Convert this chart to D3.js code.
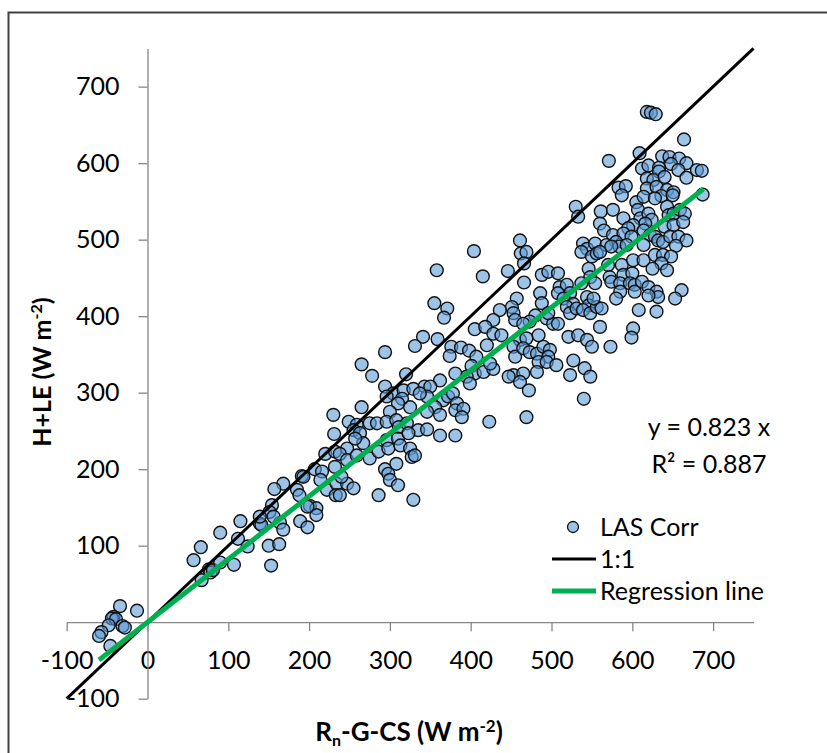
<!DOCTYPE html>
<meta charset="utf-8">
<script src="https://d3js.org/d3.v7.min.js"></script>
<style>
  body { margin: 0; background: #fff; }
  text { font-family: Lato, "Open Sans", sans-serif; fill: #000; }
</style>
<body>
<div id="chart"></div>
<script>
// measured points (Rn-G-CS, H+LE), W m-2
const lasCorr = [
  [-34,21],[-13,15],[-42,7],[-44,5],[-39,4],[-48,-4],[-31,-5],[-28,-7],[-57,-13],[-60,-18],[-46,-31],
  [57,81],[66,98],[67,55],[76,69],[78,65],[81,68],[90,78],[90,117],[107,75],[112,109],[115,132],[124,99],
  [139,129],[141,127],[150,100],[153,74],[163,102],[164,130],[168,121],[189,132],[198,124],
  [230,271],[231,246],[220,220],[207,200],[216,197],[214,186],[222,173],[232,203],[234,181],[168,181],
  [157,174],[185,173],[191,191],[193,190],[188,166],[154,153],[151,144],[156,138],[201,152],[209,149],
  [209,140],[139,138],[233,166],[198,151],[232,223],
  [404,485],[358,460],[415,452],[355,417],[371,410],[367,398],[341,373],[331,361],[359,370],[405,383],
  [376,360],[388,359],[398,355],[374,348],[294,353],[265,337],[278,322],[320,324],[407,347],[401,335],
  [405,325],[395,321],[399,312],[381,325],[362,316],
  [294,308],[304,299],[317,303],[329,305],[343,308],[350,308],[346,295],[337,299],[315,292],[310,286],
  [325,281],[296,295],[300,275],[366,290],[372,295],[378,299],[383,286],[381,277],[391,279],[389,268],
  [356,281],[346,275],[362,271],[265,281],
  [249,262],[259,258],[275,260],[284,260],[296,262],[308,264],[311,255],[321,260],
  [335,251],[346,252],[362,244],[381,244],
  [255,251],[263,247],[267,234],[257,240],[247,227],[238,220],[247,212],[259,218],[275,214],[286,223],
  [296,238],[298,227],[310,240],[313,231],[323,247],[325,227],[327,216],[331,218],[308,207],
  [294,200],[298,194],[300,186],[310,179],[286,166],[329,160],[247,181],[255,175],[238,166],[240,190],
  [530,543],[533,530],[461,499],[462,482],[469,484],[466,469],[446,459],[466,444],[488,454],[496,458],
  [508,456],[561,537],[560,521],
  [539,495],[544,488],[554,495],[537,484],[550,478],[556,482],[546,462],[548,451],[537,443],[554,443],
  [510,438],[519,441],[523,430],[508,430],[515,423],[527,416],[519,412],[523,404],[531,410],[544,425],
  [546,414],[539,408],[548,404],[556,412],[552,423],
  [486,430],[488,417],[480,401],[494,397],[502,390],[508,390],[473,393],[457,423],[451,412],[453,404],
  [455,395],[436,408],[428,395],[418,386],[465,390],[496,404],
  [428,377],[438,375],[420,362],[416,327],[428,331],[424,338],[461,369],[469,371],[484,375],
  [453,360],[455,347],[465,358],[473,353],[482,351],[490,360],[498,356],[496,347],[484,340],[494,340],
  [506,336],[453,323],[447,321],[465,325],[461,314],[472,303],[482,327],[521,373],[533,375],[544,369],
  [550,360],[527,342],[523,323],[541,332],[548,321],[540,292],[423,262],[469,268],
  [618,667],[623,666],[629,664],[664,631],[609,613],[571,603],
  [637,609],[646,608],[658,606],[667,600],[612,593],[620,597],[633,594],[633,589],[648,599],
  [657,591],[667,581],[680,591],[686,590],[618,580],[626,578],[640,582],
  [583,568],[592,570],[587,558],[618,567],[630,569],[643,565],[636,557],[651,562],[650,558],
  [605,549],[614,556],[628,554],[687,559],
  [576,539],[589,528],[565,512],[576,506],
  [607,539],[610,528],[620,534],[624,526],[616,521],[601,519],[614,512],
  [643,543],[645,532],[651,534],[659,539],[665,534],[640,517],[651,519],[663,523],
  [622,506],[628,504],[632,499],[638,497],[647,504],[657,504],[667,499],
  [595,515],[589,508],[599,504],[580,497],[584,491],[593,493],[614,493],[654,492],[568,493],[574,491],
  [560,484],[570,467],[587,467],[601,473],[614,473],[628,480],[638,480],[648,478],[636,469],[625,462],
  [643,460],[589,454],[600,456],[572,451],[574,445],[585,443],[597,443],[603,441],[612,445],[620,438],
  [630,432],[632,425],[603,432],[620,427],[585,432],[580,423],[661,434],[653,423],[608,408],[630,406],
  [601,384],[599,372],[573,360],[562,410],[560,386]
];

const oneToOne = [-100, 750];
const regSlope = 0.823;
const regRange = [-60, 688];
const xTicks = [-100, 0, 100, 200, 300, 400, 500, 600, 700];
const yTicks = [-100, 0, 100, 200, 300, 400, 500, 600, 700];
const annotation = ["y = 0.823 x", "R² = 0.887"];
const legendItems = ["LAS Corr", "1:1", "Regression line"];

const width = 827, height = 753;
const margin = {left: 66.7, right: 73.5, top: 48.4, bottom: 54.3};

const svg = d3.select("#chart").append("svg")
  .attr("width", width)
  .attr("height", height);

// outer frame (runs off the picture on the right and bottom)
svg.append("rect")
  .attr("x", 8.5).attr("y", 12.5)
  .attr("width", 900).attr("height", 900)
  .attr("fill", "none")
  .attr("stroke", "#404040")
  .attr("stroke-width", 2);

const x = d3.scaleLinear()
  .domain([-100, 750])
  .range([margin.left, width - margin.right]);
const y = d3.scaleLinear()
  .domain([-100, 750])
  .range([height - margin.bottom, margin.top]);

// plain hyphen for negatives, like the original
const fmt = d => String(d);

// x axis through y = 0
const gx = svg.append("g")
  .attr("transform", `translate(0,${y(0)})`)
  .call(d3.axisBottom(x).tickValues(xTicks).tickSize(9).tickSizeOuter(0).tickPadding(20)
    .tickFormat(fmt));
gx.selectAll("text").style("font-size", "25px");

// y axis through x = 0
const gy = svg.append("g")
  .attr("transform", `translate(${x(0)},0)`)
  .call(d3.axisLeft(y).tickValues(yTicks).tickSize(9).tickSizeOuter(0).tickPadding(19)
    .tickFormat(d => d === 0 ? "" : fmt(d)));
gy.selectAll("text").style("font-size", "25px");

svg.selectAll(".domain, .tick line")
  .attr("stroke", "#868686")
  .attr("stroke-width", 1.3);

// points
svg.append("g")
  .selectAll("circle")
  .data(lasCorr)
  .join("circle")
    .attr("cx", d => x(d[0]))
    .attr("cy", d => y(d[1]))
    .attr("r", 6.4)
    .attr("fill", "#5B9BD5")
    .attr("fill-opacity", 0.6)
    .attr("stroke", "#111")
    .attr("stroke-width", 1.4);

// 1:1 line
svg.append("line")
  .attr("x1", x(oneToOne[0])).attr("y1", y(oneToOne[0]))
  .attr("x2", x(oneToOne[1])).attr("y2", y(oneToOne[1]))
  .attr("stroke", "#000")
  .attr("stroke-width", 3);

// regression line
svg.append("line")
  .attr("x1", x(regRange[0])).attr("y1", y(regSlope * regRange[0]))
  .attr("x2", x(regRange[1])).attr("y2", y(regSlope * regRange[1]))
  .attr("stroke", "#00B050")
  .attr("stroke-width", 5);

// axis titles
const yTitle = svg.append("text")
  .attr("transform", "translate(51,372) rotate(-90)")
  .attr("text-anchor", "middle")
  .style("font-size", "25px")
  .style("font-weight", "bold");
yTitle.append("tspan").text("H+LE (W m");
yTitle.append("tspan").attr("dy", -9).style("font-size", "16px").text("-2");
yTitle.append("tspan").attr("dy", 9).text(")");

const xTitle = svg.append("text")
  .attr("x", 409).attr("y", 741)
  .attr("text-anchor", "middle")
  .style("font-size", "26px")
  .style("font-weight", "bold");
xTitle.append("tspan").text("R");
xTitle.append("tspan").attr("dy", 5).style("font-size", "16px").text("n");
xTitle.append("tspan").attr("dy", -5).text("-G-CS (W m");
xTitle.append("tspan").attr("dy", -9).style("font-size", "17px").text("-2");
xTitle.append("tspan").attr("dy", 9).text(")");

// regression annotation
svg.selectAll(".annot")
  .data(annotation)
  .join("text")
    .attr("class", "annot")
    .attr("x", 709)
    .attr("y", (d, i) => 436 + i * 37)
    .attr("text-anchor", "middle")
    .style("font-size", "25px")
    .text(d => d);

// legend
const legend = svg.append("g").attr("transform", "translate(552,527)");
legendItems.forEach((name, i) => {
  const row = legend.append("g").attr("transform", `translate(0,${i * 32})`);
  if (i === 0) {
    row.append("circle")
      .attr("cx", 21).attr("cy", 0).attr("r", 5.5)
      .attr("fill", "#5B9BD5").attr("fill-opacity", 0.6)
      .attr("stroke", "#111").attr("stroke-width", 1.3);
  } else {
    row.append("line")
      .attr("x1", 0).attr("x2", 44)
      .attr("stroke", i === 1 ? "#000" : "#00B050")
      .attr("stroke-width", i === 1 ? 3 : 5);
  }
  row.append("text")
    .attr("x", 48).attr("y", 9)
    .style("font-size", "25px")
    .text(name);
});
</script>
</body>
